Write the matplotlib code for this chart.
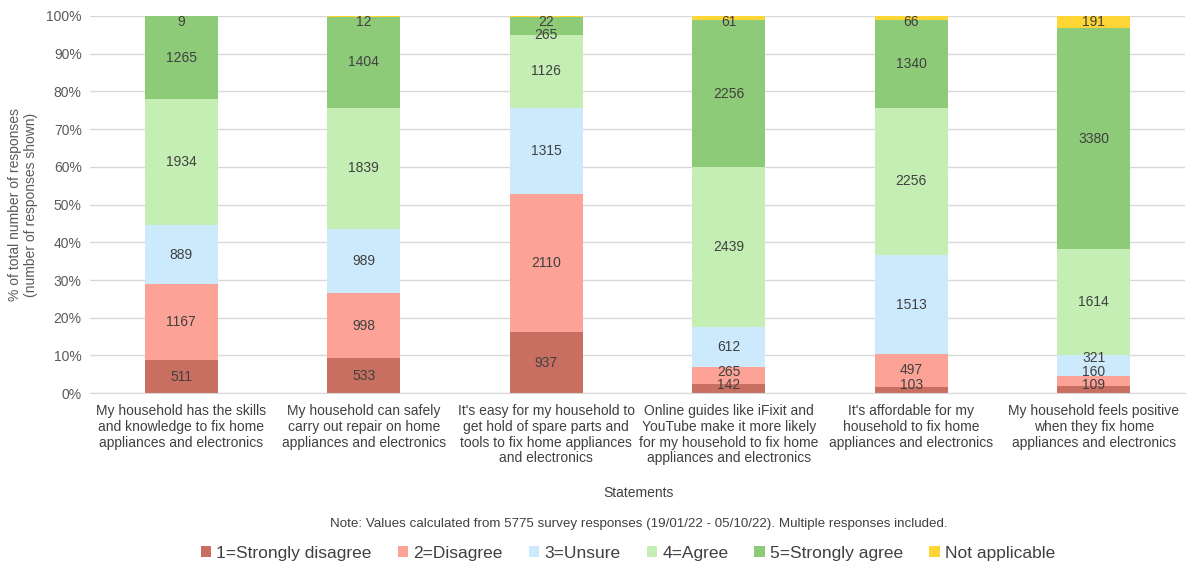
import matplotlib

matplotlib.use("Agg")
import matplotlib.pyplot as plt
import numpy as np

plt.rcParams["font.family"] = ["Liberation Sans", "DejaVu Sans"]

statements = [
    "My household has the skills\nand knowledge to fix home\nappliances and electronics",
    "My household can safely\ncarry out repair on home\nappliances and electronics",
    "It's easy for my household to\nget hold of spare parts and\ntools to fix home appliances\nand electronics",
    "Online guides like iFixit and\nYouTube make it more likely\nfor my household to fix home\nappliances and electronics",
    "It's affordable for my\nhousehold to fix home\nappliances and electronics",
    "My household feels positive\nwhen they fix home\nappliances and electronics",
]
categories = ["1=Strongly disagree", "2=Disagree", "3=Unsure", "4=Agree",
              "5=Strongly agree", "Not applicable"]
strongly_disagree = [511, 533, 937, 142, 103, 109]
disagree = [1167, 998, 2110, 265, 497, 160]
unsure = [889, 989, 1315, 612, 1513, 321]
agree = [1934, 1839, 1126, 2439, 2256, 1614]
strongly_agree = [1265, 1404, 265, 2256, 1340, 3380]
not_applicable = [9, 12, 22, 61, 66, 191]

colors = ["#C96F62", "#FDA297", "#CDE9FC", "#C4EEB3", "#8ECB78", "#FDD535"]
TXT = "#404040"

series = np.array([strongly_disagree, disagree, unsure, agree, strongly_agree, not_applicable], dtype=float)
totals = series.sum(axis=0)
pct = series / totals * 100

fig = plt.figure(figsize=(11.89, 5.65), dpi=100)
ax = fig.add_axes([0.0757, 0.304, 0.921, 0.668])

# label spacing rules (in % of axis height), like Excel's label collision handling
px = 100.0 / (0.668 * 565)
GAP = 13.5 * px
LO = 8 * px
HI = 100 - 6 * px

x = np.arange(len(statements))
bottoms = np.vstack([np.zeros(len(statements)), np.cumsum(pct, axis=0)[:-1]])
for k in range(len(categories)):
    ax.bar(x, pct[k], 0.4, bottom=bottoms[k], color=colors[k], label=categories[k], zorder=2)

for i in range(len(statements)):
    ys = list(bottoms[:, i] + pct[:, i] / 2)
    # bottom-up pass
    ys[0] = max(ys[0], LO)
    for k in range(1, len(ys)):
        ys[k] = max(ys[k], ys[k - 1] + GAP) if pct[k - 1, i] < 6 or pct[k, i] < 6 else ys[k]
    # top-down pass
    ys[-1] = min(ys[-1], HI)
    for k in range(len(ys) - 2, -1, -1):
        ys[k] = min(ys[k], ys[k + 1] - GAP)
    for k in range(len(ys)):
        ax.text(x[i], ys[k], f"{int(series[k][i])}",
                ha="center", va="center", fontsize=10, color=TXT, zorder=3)

ax.set_ylim(0, 100)
ax.set_xlim(-0.5, len(statements) - 0.5)
ax.set_yticks(np.arange(0, 101, 10))
ax.set_yticklabels([f"{v}%" for v in range(0, 101, 10)], fontsize=10, color="#595959")
ax.yaxis.grid(True, color="#D9D9D9", linewidth=1, zorder=0)
ax.set_xticks(x)
ax.set_xticklabels(statements, fontsize=10, color=TXT, linespacing=1.15, va="top")
ax.tick_params(axis="y", length=0, pad=6)
ax.tick_params(axis="x", length=0, pad=8)
for s in ["top", "right", "left"]:
    ax.spines[s].set_visible(False)
ax.spines["bottom"].set_color("#D9D9D9")
ax.set_ylabel("% of total number of responses\n(number of responses shown)",
              fontsize=10, color="#595959", labelpad=6)

fig.text(0.537, 0.128, "Statements", ha="center", va="center", fontsize=10, color=TXT)
fig.text(0.537, 0.072,
         "Note: Values calculated from 5775 survey responses (19/01/22 - 05/10/22). Multiple responses included.",
         ha="center", va="center", fontsize=9.6, color=TXT)

fig.legend(loc="center", bbox_to_anchor=(0.528, 0.021), ncol=6, frameon=False,
           fontsize=12.5, handlelength=0.6, handleheight=0.6, handletextpad=0.3,
           columnspacing=1.5, labelcolor="#404040")

fig.savefig("out.png", dpi=100, facecolor="white")
